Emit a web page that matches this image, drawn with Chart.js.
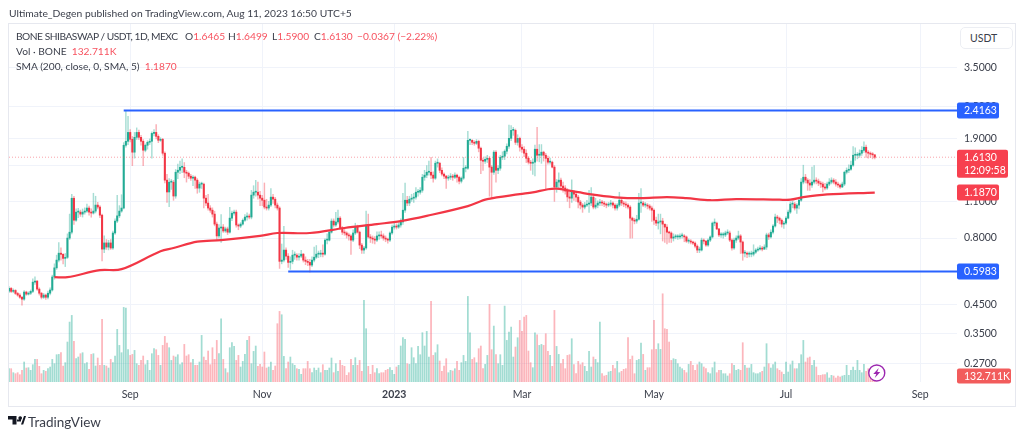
<!DOCTYPE html>
<html>
<head>
<meta charset="utf-8">
<title>BONE / USDT</title>
<script src="https://cdn.jsdelivr.net/npm/chart.js@4"></script>
<style>
  html, body { margin: 0; padding: 0; background: #fff; width: 1024px; height: 437px; overflow: hidden; }
  body { position: relative; font-family: Lato, sans-serif; color: #3a3e4a; }
  canvas { position: absolute; left: 0; top: 0; }
  .txt { position: absolute; white-space: pre; font-size: 10.2px; line-height: 14px; }
  .red { color: #f7525f; }
  #frame { position: absolute; left: 8px; top: 23px; width: 1006px; height: 382px; border: 1px solid #e6e8ef; }
  #unit { position: absolute; left: 960px; top: 27px; width: 51px; height: 20px; border: 1px solid #eceef3; border-radius: 5px;
          font-size: 10.5px; line-height: 20px; text-indent: 9px; background: #fff; }
</style>
</head>
<body>
<div id="frame"></div>
<canvas id="myChart" width="1024" height="437"></canvas>
<div class="txt" style="left:9px;top:6px;font-size:10.3px">Ultimate_Degen published on TradingView.com, Aug 11, 2023 16:50 UTC+5</div>
<div class="txt" style="left:16px;top:29px;letter-spacing:-0.47px">BONE SHIBASWAP / USDT, 1D, MEXC</div>
<div class="txt" style="left:185px;top:29px">O<span class="red">1.6465</span></div>
<div class="txt" style="left:228px;top:29px">H<span class="red">1.6499</span></div>
<div class="txt" style="left:272px;top:29px">L<span class="red">1.5900</span></div>
<div class="txt" style="left:314px;top:29px">C<span class="red">1.6130</span></div>
<div class="txt red" style="left:357px;top:29px">−0.0367 (−2.22%)</div>
<div class="txt" style="left:16px;top:44px">Vol · BONE  <span class="red">132.711K</span></div>
<div class="txt" style="left:16px;top:59px">SMA (200, close, 0, SMA, 5)  <span class="red">1.1870</span></div>
<div id="unit">USDT</div>
<svg style="position:absolute;left:8px;top:416px" width="18" height="9" viewBox="0 0 18 9">
  <path d="M0 0H8.5V8.5H4.5V3.5H0Z M12.2 0.2A1.8 1.8 0 1 1 12.19 0.2Z M13 8.5L16 0H18L15.2 8.5Z M9 3.4H13V5.5H9Z" fill="#131722"/>
</svg>
<div class="txt" style="left:28px;top:414px;font-size:13.5px;line-height:16px;color:#3a3e4a">TradingView</div>

<script>
const startDay = Date.UTC(2022, 6, 7);
const dayCount = 439;
const dayLabels = [];
for (let i = 0; i < dayCount; i++) {
    dayLabels.push(new Date(startDay + i * 86400000).toISOString().slice(0, 10));
}

const tickDays = ['2022-09-01', '2022-11-01', '2023-01-01', '2023-03-01', '2023-05-01', '2023-07-01', '2023-09-01'];
const tickNames = ['Sep', 'Nov', '2023', 'Mar', 'May', 'Jul', 'Sep'];
const priceTicks = [3.5, 2.5, 1.9, 1.5, 1.1, 0.8, 0.6, 0.45, 0.35, 0.27];

const opens = [
    .505,.517,.504,.508,.495,.488,.479,.471,.501,.492,
    .496,.504,.546,.551,.514,.496,.479,.488,.479,.496,
    .510,.571,.618,.661,.702,.695,.671,.677,.800,.842,
    1.130,.934,1.002,1.002,.985,1.002,1.011,1.038,1.002,.994,
    1.011,1.065,1.047,.976,.727,.767,.740,.767,.734,.836,
    .927,.970,1.011,1.038,1.789,1.852,2.000,1.884,1.685,1.917,
    2.000,1.917,1.852,1.714,1.789,1.836,1.852,1.983,2.000,1.933,
    1.868,1.884,1.670,1.322,1.193,1.299,1.299,1.152,1.416,1.441,
    1.478,1.478,1.416,1.404,1.368,1.345,1.357,1.322,1.234,1.277,
    1.277,1.131,1.084,1.038,1.019,.985,.903,.815,.873,.880,
    .851,.866,.842,.951,.993,1.002,.896,.888,.903,.934,
    .960,.968,.960,1.161,1.191,1.191,1.161,1.131,1.111,1.047,
    1.038,1.065,1.141,1.121,1.065,1.038,.654,.661,.721,.684,
    .648,.654,.690,.690,.678,.684,.696,.661,.654,.648,
    .633,.661,.678,.696,.696,.702,.696,.786,.786,.842,
    .927,.896,.920,.951,.873,.842,.836,.822,.815,.786,
    .836,.880,.842,.753,.721,.734,.896,.808,.800,.793,
    .786,.815,.822,.815,.800,.793,.786,.836,.880,.888,
    .880,.896,.920,1.019,1.111,1.084,1.121,1.131,1.141,1.191,
    1.191,1.211,1.356,1.381,1.416,1.416,1.381,1.345,1.531,1.531,
    1.440,1.393,1.369,1.345,1.356,1.369,1.356,1.381,1.356,1.310,
    1.345,1.466,1.466,1.867,1.867,1.835,1.820,1.851,1.744,1.571,
    1.558,1.584,1.598,1.480,1.416,1.685,1.440,1.466,1.613,1.627,
    1.699,1.774,1.900,2.036,2.036,1.835,1.900,1.759,1.729,1.670,
    1.598,1.545,1.531,1.545,1.729,1.641,1.641,1.685,1.641,1.598,
    1.545,1.545,1.480,1.246,1.300,1.322,1.256,1.235,1.203,1.143,
    1.131,1.191,1.171,1.141,1.093,1.065,1.047,1.065,1.074,1.084,
    1.141,1.047,1.065,1.084,1.093,1.084,1.074,1.065,1.074,1.084,
    1.065,1.038,1.065,1.111,1.084,1.074,1.065,1.047,.951,.934,
    .927,.942,1.084,1.084,1.065,1.065,1.056,1.038,1.019,.934,
    .911,.920,.927,.903,.880,.842,.836,.800,.808,.808,
    .808,.815,.815,.808,.779,.779,.773,.766,.746,.721,
    .721,.786,.779,.753,.786,.808,.911,.911,.866,.822,
    .822,.822,.836,.836,.786,.734,.786,.800,.815,.773,
    .702,.702,.696,.696,.696,.708,.721,.727,.734,.727,
    .740,.822,.808,.842,.888,.960,.951,.934,.903,.911,
    .951,1.002,1.074,1.074,1.038,1.065,1.111,1.300,1.356,1.322,
    1.289,1.267,1.300,1.322,1.311,1.289,1.278,1.246,1.235,1.278,
    1.300,1.322,1.300,1.278,1.267,1.246,1.278,1.416,1.440,1.453,
    1.505,1.641,1.641,1.641,1.670,1.712,1.759,1.685,1.670,1.656,
    1.6465
];
const highs = [
    .525,.522,.515,.512,.500,.494,.483,.508,.505,.502,
    .510,.562,.572,.553,.520,.500,.495,.492,.505,.520,
    .580,.640,.690,.770,.735,.700,.700,.830,.985,1.170,
    1.150,1.030,1.035,1.020,1.030,1.040,1.075,1.055,1.030,1.180,
    1.150,1.090,1.060,.985,.815,.790,.785,.790,.850,.945,
    1.160,1.060,1.165,1.830,2.416,2.300,2.050,1.930,2.000,2.080,
    2.040,1.950,1.880,1.810,1.860,1.890,2.010,2.050,2.140,1.960,
    1.910,1.900,1.690,1.390,1.340,1.330,1.320,1.450,1.520,1.560,
    1.590,1.540,1.440,1.420,1.390,1.375,1.370,1.340,1.300,1.300,
    1.290,1.160,1.170,1.060,1.040,1.010,.920,.900,.980,.900,
    .880,.880,1.045,1.010,1.020,1.020,.905,.915,.945,.980,
    .995,.985,1.210,1.260,1.320,1.300,1.200,1.160,1.290,1.120,
    1.100,1.230,1.170,1.140,1.085,1.050,.760,.885,.735,.700,
    .680,.720,.710,.700,.700,.720,.700,.680,.665,.665,
    .680,.740,.750,.715,.720,.755,.795,.830,.855,.945,
    .945,1.000,1.020,.965,.885,.865,.845,.835,.825,.860,
    .910,.895,.850,.765,.745,1.010,.985,.825,.815,.810,
    .845,.845,.850,.830,.815,.800,.845,.895,.910,.905,
    .915,.945,1.180,1.290,1.150,1.150,1.170,1.180,1.240,1.220,
    1.240,1.390,1.440,1.500,1.560,1.610,1.420,1.560,1.590,1.545,
    1.470,1.410,1.380,1.380,1.400,1.390,1.410,1.395,1.370,1.360,
    1.610,1.500,2.020,1.890,1.880,1.860,1.880,1.870,1.760,1.600,
    1.620,1.640,1.620,1.500,1.710,1.710,1.500,1.640,1.690,1.720,
    1.810,2.130,2.120,2.090,2.060,1.960,1.920,1.800,1.770,1.720,
    1.620,1.570,1.590,1.790,2.090,1.800,1.800,1.700,1.670,1.630,
    1.600,1.560,1.500,1.330,1.410,1.345,1.300,1.260,1.230,1.190,
    1.325,1.210,1.190,1.160,1.110,1.080,1.090,1.110,1.210,1.240,
    1.170,1.130,1.105,1.120,1.110,1.100,1.085,1.090,1.110,1.095,
    1.080,1.080,1.190,1.135,1.100,1.095,1.080,1.060,.960,.950,
    .975,1.180,1.230,1.100,1.090,1.080,1.070,1.055,1.030,.960,
    .985,.985,.950,.900,.900,.850,.845,.830,.825,.825,
    .830,.835,.825,.815,.795,.790,.780,.775,.755,.740,
    .800,.795,.785,.795,.815,.920,.945,.920,.870,.840,
    .840,.850,.860,.850,.795,.800,.815,.850,.825,.780,
    .720,.710,.710,.715,.755,.730,.740,.750,.745,.755,
    .835,.835,.860,.900,.985,.975,.960,.945,.925,.965,
    1.020,1.095,1.100,1.090,1.080,1.130,1.340,1.505,1.390,1.340,
    1.330,1.480,1.500,1.350,1.335,1.310,1.300,1.285,1.300,1.340,
    1.350,1.340,1.330,1.300,1.280,1.300,1.430,1.470,1.510,1.560,
    1.770,1.750,1.680,1.720,1.770,1.845,1.790,1.710,1.690,1.680,
    1.6499
];
const lows = [
    .498,.498,.498,.490,.483,.474,.447,.466,.487,.488,
    .490,.498,.535,.508,.488,.472,.474,.470,.472,.489,
    .505,.560,.610,.650,.660,.640,.625,.670,.790,.830,
    .900,.925,.955,.965,.960,.985,1.000,.975,.960,.985,
    .995,1.030,.955,.657,.705,.725,.722,.725,.725,.825,
    .915,.955,1.000,1.030,1.760,1.800,1.840,1.500,1.600,1.880,
    1.880,1.790,1.500,1.690,1.730,1.800,1.600,1.940,1.890,1.830,
    1.850,1.640,1.290,1.090,1.050,1.220,1.110,1.130,1.340,1.400,
    1.410,1.350,1.300,1.340,1.320,1.260,1.230,1.180,1.190,1.230,
    1.040,1.060,1.020,1.000,.960,.890,.790,.800,.770,.840,
    .840,.825,.835,.930,.975,.880,.860,.875,.895,.925,
    .935,.945,.945,1.130,1.150,1.120,1.060,1.060,1.030,1.020,
    1.020,1.050,1.080,1.040,1.020,.615,.640,.650,.665,.620,
    .610,.640,.665,.660,.660,.675,.650,.635,.630,.595,
    .625,.650,.670,.675,.680,.680,.690,.760,.780,.835,
    .880,.885,.905,.860,.825,.820,.800,.785,.695,.775,
    .825,.835,.730,.700,.700,.725,.800,.770,.765,.760,
    .775,.790,.800,.785,.775,.765,.775,.825,.865,.865,
    .870,.880,.900,1.000,1.060,1.060,1.100,1.090,1.120,1.150,
    1.170,1.190,1.320,1.350,1.380,1.340,1.300,1.330,1.480,1.410,
    1.370,1.340,1.230,1.320,1.330,1.320,1.340,1.300,1.280,1.290,
    1.330,1.420,1.450,1.800,1.800,1.790,1.800,1.690,1.400,1.440,
    1.530,1.540,1.150,1.130,1.390,1.300,1.400,1.440,1.580,1.580,
    1.660,1.740,1.860,1.950,1.800,1.790,1.700,1.680,1.620,1.540,
    1.520,1.440,1.390,1.370,1.560,1.550,1.530,1.560,1.220,1.520,
    1.520,1.470,1.100,1.190,1.230,1.220,1.190,1.170,1.100,1.040,
    1.090,1.110,1.100,1.040,1.030,1.000,1.030,1.050,1.000,1.060,
    1.030,1.030,1.040,1.060,1.060,1.050,1.040,1.050,1.055,1.040,
    1.020,1.020,1.050,1.060,1.050,1.040,1.030,.800,.800,.905,
    .910,.935,1.000,1.050,1.045,1.030,1.020,.925,.900,.890,
    .865,.830,.780,.770,.760,.770,.770,.780,.795,.790,
    .795,.800,.775,.770,.765,.760,.755,.735,.705,.705,
    .715,.760,.745,.745,.775,.800,.890,.860,.810,.805,
    .800,.810,.825,.775,.720,.725,.770,.790,.700,.660,
    .680,.675,.680,.680,.685,.700,.712,.720,.715,.725,
    .725,.790,.800,.830,.880,.915,.905,.880,.870,.900,
    .945,.990,1.040,1.020,.990,1.030,1.100,1.280,1.290,1.210,
    1.210,1.240,1.280,1.280,1.260,1.240,1.195,1.215,1.220,1.260,
    1.280,1.280,1.255,1.240,1.230,1.240,1.260,1.395,1.410,1.440,
    1.490,1.570,1.590,1.610,1.640,1.680,1.610,1.600,1.610,1.590,
    1.5900
];
const closes = [
    .517,.504,.508,.495,.488,.479,.471,.501,.492,.496,
    .504,.546,.551,.514,.496,.479,.488,.479,.496,.510,
    .571,.618,.661,.702,.695,.671,.677,.800,.842,1.130,
    .934,1.002,1.002,.985,1.002,1.011,1.038,1.002,.994,1.011,
    1.065,1.047,.976,.727,.767,.740,.767,.734,.836,.927,
    .970,1.011,1.038,1.789,1.852,2.000,1.884,1.685,1.917,2.000,
    1.917,1.852,1.714,1.789,1.836,1.852,1.983,2.000,1.933,1.868,
    1.884,1.670,1.322,1.193,1.299,1.299,1.152,1.416,1.441,1.478,
    1.478,1.416,1.404,1.368,1.345,1.357,1.322,1.234,1.277,1.277,
    1.131,1.084,1.038,1.019,.985,.903,.815,.873,.880,.851,
    .866,.842,.951,.993,1.002,.896,.888,.903,.934,.960,
    .968,.960,1.161,1.191,1.191,1.161,1.131,1.111,1.047,1.038,
    1.065,1.141,1.121,1.065,1.038,.654,.661,.721,.684,.648,
    .654,.690,.690,.678,.684,.696,.661,.654,.648,.633,
    .661,.678,.696,.696,.702,.696,.786,.786,.842,.927,
    .896,.920,.951,.873,.842,.836,.822,.815,.786,.836,
    .880,.842,.753,.721,.734,.896,.808,.800,.793,.786,
    .815,.822,.815,.800,.793,.786,.836,.880,.888,.880,
    .896,.920,1.019,1.111,1.084,1.121,1.131,1.141,1.191,1.191,
    1.211,1.356,1.381,1.416,1.416,1.381,1.345,1.531,1.531,1.440,
    1.393,1.369,1.345,1.356,1.369,1.356,1.381,1.356,1.310,1.345,
    1.466,1.466,1.867,1.867,1.835,1.820,1.851,1.744,1.571,1.558,
    1.584,1.598,1.480,1.416,1.685,1.440,1.466,1.613,1.627,1.699,
    1.774,1.900,2.036,2.036,1.835,1.900,1.759,1.729,1.670,1.598,
    1.545,1.531,1.545,1.729,1.641,1.641,1.685,1.641,1.598,1.545,
    1.545,1.480,1.246,1.300,1.322,1.256,1.235,1.203,1.143,1.131,
    1.191,1.171,1.141,1.093,1.065,1.047,1.065,1.074,1.084,1.141,
    1.047,1.065,1.084,1.093,1.084,1.074,1.065,1.074,1.084,1.065,
    1.038,1.065,1.111,1.084,1.074,1.065,1.047,.951,.934,.927,
    .942,1.084,1.084,1.065,1.065,1.056,1.038,1.019,.934,.911,
    .920,.927,.903,.880,.842,.836,.800,.808,.808,.808,
    .815,.815,.808,.779,.779,.773,.766,.746,.721,.721,
    .786,.779,.753,.786,.808,.911,.911,.866,.822,.822,
    .822,.836,.836,.786,.734,.786,.800,.815,.773,.702,
    .702,.696,.696,.696,.708,.721,.727,.734,.727,.740,
    .822,.808,.842,.888,.960,.951,.934,.903,.911,.951,
    1.002,1.074,1.074,1.038,1.065,1.111,1.300,1.356,1.322,1.289,
    1.267,1.300,1.322,1.311,1.289,1.278,1.246,1.235,1.278,1.300,
    1.322,1.300,1.278,1.267,1.246,1.278,1.416,1.440,1.453,1.505,
    1.641,1.641,1.641,1.670,1.712,1.759,1.685,1.670,1.656,1.6465,
    1.6130
];
// volume in thousands of BONE
const volumes = [
    293,293,205,183,205,161,257,440,308,315,
    257,381,498,498,345,183,257,235,293,330,
    498,403,601,608,645,352,425,880,1319,1466,
    894,513,550,623,645,403,425,279,608,623,
    352,528,367,1378,367,352,308,498,425,572,
    1158,806,645,1642,1627,711,586,608,696,403,
    367,476,572,381,476,257,623,733,711,586,
    367,806,1004,858,755,476,572,550,601,381,
    425,828,572,601,425,498,367,367,440,1026,
    550,476,682,381,755,498,916,623,1393,498,
    293,205,755,865,784,476,586,330,454,608,
    916,1004,403,674,792,345,388,330,660,308,
    330,440,257,352,1283,1554,1481,564,293,440,
    550,403,367,293,279,169,293,293,454,293,
    205,308,257,308,205,381,257,257,308,528,
    205,403,235,476,367,345,147,205,498,367,
    535,367,476,235,1796,1173,345,169,367,205,
    293,183,205,205,257,279,315,257,169,330,
    367,792,975,938,403,388,755,535,403,784,
    601,1085,792,1114,550,1774,586,645,821,462,
    235,352,513,205,257,242,293,454,257,425,
    586,454,1884,1085,498,535,425,733,792,293,
    388,586,1708,711,1231,601,403,601,367,1671,
    916,1100,1209,550,770,975,1356,1114,1429,1466,
    682,425,315,1085,1041,806,828,806,1063,674,
    586,345,1576,784,608,403,498,293,586,601,
    953,381,183,454,381,425,345,235,674,330,
    550,498,425,1319,183,132,147,220,235,367,
    293,454,205,235,279,293,975,498,572,183,
    476,498,858,608,257,315,315,711,1356,718,
    843,718,1942,1173,1158,880,476,513,498,403,
    330,293,257,205,388,454,367,257,381,440,
    403,330,293,205,183,315,440,205,257,257,
    183,183,132,183,403,367,257,279,257,865,
    367,308,308,388,205,183,183,205,235,330,
    843,403,308,381,440,293,257,220,169,440,
    220,381,462,293,293,403,601,916,440,528,
    550,367,476,330,147,147,161,161,205,88,
    147,132,88,132,110,132,147,367,147,257,
    330,257,476,257,205,388,235,293,147,147,
    132.711
];

// 200 day average, read at the bends of the line
const smaDayIndex = [21, 27, 42, 52, 70, 76, 87, 98, 116, 124, 139, 155, 170, 181, 193, 212, 221, 236, 242, 249, 253, 263, 270, 282, 292, 304, 313, 324, 336, 356, 361, 367, 378, 400];
const smaValues = [.570, .570, .606, .611, .714, .734, .776, .786, .815, .836, .836, .873, .903, .927, .970, 1.056, 1.121, 1.171, 1.189, 1.222, 1.228, 1.191, 1.166, 1.136, 1.131, 1.141, 1.131, 1.111, 1.121, 1.116, 1.116, 1.141, 1.168, 1.187];

const levelHigh = 2.4163;
const levelLow = 0.5983;
const levelHighFrom = '2022-08-29';
const levelLowFrom = '2022-11-13';
const lastPrice = 1.6130;
const lastSma = 1.1870;
const lastVolume = 132.711;

const FONT = 'Lato, sans-serif';
const UP = '#22ab94';
const DOWN = '#f23645';
const isUp = i => closes[i] >= opens[i];

const lastDay = dayLabels[dayLabels.length - 1];

function tag(ctx, x, yc, w, h, color, lines) {
    ctx.fillStyle = color;
    ctx.beginPath();
    ctx.roundRect(x, yc - h / 2, w, h, 2);
    ctx.fill();
    ctx.fillStyle = '#fff';
    ctx.font = '10.5px ' + FONT;
    ctx.textBaseline = 'middle';
    ctx.textAlign = 'left';
    lines.forEach((t, i) => {
        ctx.fillText(t, x + 7, yc + (i - (lines.length - 1) / 2) * 13 + 0.5);
    });
}

const priceTags = {
    id: 'priceTags',
    afterDraw(chart) {
        const {ctx, chartArea, scales} = chart;
        const x = chartArea.right;
        ctx.save();
        tag(ctx, x, scales.y.getPixelForValue(levelHigh), 42, 16, '#2962ff', [levelHigh.toFixed(4)]);
        tag(ctx, x, scales.y.getPixelForValue(levelLow), 42, 16, '#2962ff', [levelLow.toFixed(4)]);
        tag(ctx, x, scales.y.getPixelForValue(lastSma), 42, 16, '#f7404f', [lastSma.toFixed(4)]);
        // last price tag hangs under the price with the countdown
        tag(ctx, x, scales.y.getPixelForValue(lastPrice) + 6.5, 51, 28, '#f7404f', [lastPrice.toFixed(4), '12:09:58']);
        tag(ctx, x, scales.y2.getPixelForValue(lastVolume), 54, 15, '#f25c5c', [lastVolume.toFixed(3) + 'K']);

        // bolt marker next to the last bar
        const bx = scales.x.getPixelForValue(400) + 2;
        const by = scales.y2.getPixelForValue(lastVolume) - 3;
        ctx.beginPath();
        ctx.arc(bx, by, 8, 0, Math.PI * 2);
        ctx.fillStyle = '#fff';
        ctx.fill();
        ctx.lineWidth = 1.4;
        ctx.strokeStyle = '#9c27b0';
        ctx.stroke();
        ctx.fillStyle = '#9c27b0';
        ctx.beginPath();
        [[2, -5], [-3.5, 1], [-0.5, 1], [-2, 5], [3.5, -1], [0.5, -1]].forEach(p => ctx.lineTo(bx + p[0], by + p[1]));
        ctx.closePath();
        ctx.fill();
        ctx.restore();
    }
};

const chart = new Chart(document.getElementById('myChart'), {
    type: 'bar',
    data: {
        labels: dayLabels,
        datasets: [
            {
                label: 'Vol',
                yAxisID: 'y2',
                data: volumes,
                barThickness: 1.1,
                order: 6,
                backgroundColor: ctx => isUp(ctx.dataIndex) ? 'rgba(34,171,148,0.42)' : 'rgba(247,82,95,0.42)',
            },
            {
                label: 'Wick',
                data: lows.map((l, i) => [l, highs[i]]),
                barThickness: 0.8,
                order: 5,
                backgroundColor: ctx => isUp(ctx.dataIndex) ? 'rgba(34,171,148,0.4)' : 'rgba(242,54,69,0.4)',
            },
            {
                label: 'Body',
                data: opens.map((o, i) => [o, closes[i]]),
                barThickness: 1.4,
                minBarLength: 1,
                order: 4,
                backgroundColor: ctx => isUp(ctx.dataIndex) ? UP : DOWN,
            },
            {
                type: 'line',
                label: 'Last',
                data: [{x: dayLabels[0], y: lastPrice}, {x: lastDay, y: lastPrice}],
                borderColor: 'rgba(242,54,69,0.45)',
                borderWidth: 1,
                borderDash: [1, 2],
                pointRadius: 0,
                order: 3,
            },
            {
                type: 'line',
                label: 'SMA',
                data: smaDayIndex.map((d, i) => ({x: dayLabels[d], y: smaValues[i]})),
                borderColor: '#f23645',
                borderWidth: 2.2,
                pointRadius: 0,
                tension: 0.35,
                order: 2,
            },
            {
                type: 'line',
                label: 'Resistance',
                data: [{x: levelHighFrom, y: levelHigh}, {x: lastDay, y: levelHigh}],
                borderColor: '#2962ff',
                borderWidth: 2,
                pointRadius: 0,
                order: 1,
            },
            {
                type: 'line',
                label: 'Support',
                data: [{x: levelLowFrom, y: levelLow}, {x: lastDay, y: levelLow}],
                borderColor: '#2962ff',
                borderWidth: 2,
                pointRadius: 0,
                order: 1,
            },
        ]
    },
    options: {
        responsive: false,
        animation: false,
        devicePixelRatio: 1,
        grouped: false,
        layout: {padding: {left: 9, top: 24, right: 9, bottom: 31}},
        plugins: {legend: {display: false}, tooltip: {enabled: false}},
        scales: {
            x: {
                offset: false,
                grid: {offset: false, color: '#f0f3fa', drawTicks: false},
                border: {display: false},
                afterBuildTicks: scale => {
                    scale.ticks = tickDays.map(d => ({value: dayLabels.indexOf(d)}));
                },
                afterFit: scale => { scale.height = 24; },
                ticks: {
                    autoSkip: false,
                    maxRotation: 0,
                    padding: 6,
                    color: '#3a3e4a',
                    font: ctx => ({family: FONT, size: 10.5, weight: ctx.index === 2 ? 'bold' : 'normal'}),
                    callback: (value, index) => tickNames[index],
                },
            },
            y: {
                type: 'logarithmic',
                position: 'right',
                min: 0.2297,
                max: 5.12,
                grid: {color: '#f0f3fa', drawTicks: false},
                border: {display: false},
                afterBuildTicks: scale => {
                    scale.ticks = priceTicks.map(v => ({value: v}));
                },
                afterFit: scale => { scale.width = 58; },
                ticks: {
                    padding: 7,
                    color: '#3a3e4a',
                    font: {family: FONT, size: 10.5},
                    callback: value => Number(value).toFixed(4),
                },
            },
            y2: {
                type: 'linear',
                display: false,
                min: 0,
                max: 7880,
            },
        },
    },
    plugins: [priceTags],
});
</script>
</body>
</html>
